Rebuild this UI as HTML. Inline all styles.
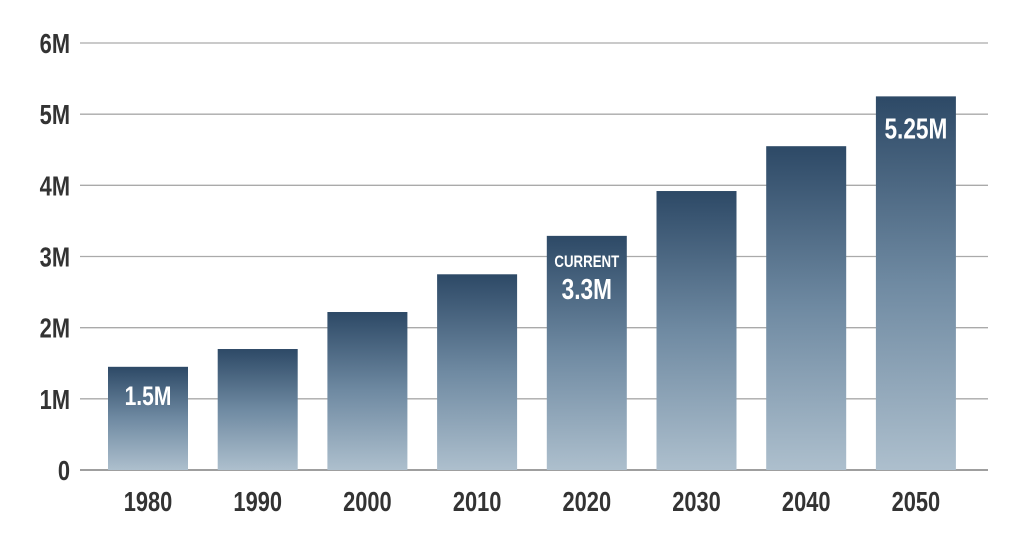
<!DOCTYPE html>
<html><head><meta charset="utf-8"><style>
html,body{margin:0;padding:0;background:#fff;}
svg text{font-family:"Liberation Sans",sans-serif;font-weight:bold;}
</style></head><body>
<svg id="chart" width="1024" height="544" viewBox="0 0 1024 544" xmlns="http://www.w3.org/2000/svg">
<defs><linearGradient id="bg" x1="0" y1="0" x2="0" y2="1">
<stop offset="0" stop-color="#2d4966"/><stop offset="0.5" stop-color="#6f8aa2"/><stop offset="1" stop-color="#adbfcd"/></linearGradient></defs>
<g id="grid"></g><g id="bars"></g><g id="labels"></g>
</svg>
<script>
const categories=["1980","1990","2000","2010","2020","2030","2040","2050"];
const values=[1.45,1.70,2.22,2.75,3.29,3.92,4.55,5.25];
const yTicks=[0,1,2,3,4,5,6];
const yTickLabels=["0","1M","2M","3M","4M","5M","6M"];
const NS="http://www.w3.org/2000/svg";
const y0=470,y1=43,yMax=6;
const y=v=>y0-(v/yMax)*(y0-y1);
const step=109.7,x0=148;
const xc=i=>x0+i*step;
const bw=80;
function mk(t,a,p){const e=document.createElementNS(NS,t);for(const k in a)e.setAttribute(k,a[k]);p.appendChild(e);return e;}
const grid=document.getElementById('grid'),bars=document.getElementById('bars'),labels=document.getElementById('labels');
function txt(x,yy,s,size,fill,anchor,parent){
  const g=mk('g',{transform:`translate(${x},${yy}) scale(0.78,1)`},parent);
  const t=mk('text',{x:0,y:0,'font-size':size,fill:fill,'text-anchor':anchor},g);
  t.textContent=s;return t;}
yTicks.forEach((v,i)=>{
  const l=mk('line',{x1:80,x2:988,y1:y(v),y2:y(v),stroke:v===0?'#666':'#aaa','stroke-width':1.3},grid);
  
  
  const t=txt(70,y(v)+10,yTickLabels[i],28,'#333','end',labels);
  
  
});
categories.forEach((c,i)=>{
  const r=mk('rect',{x:xc(i)-bw/2,y:y(values[i]),width:bw,height:y0-y(values[i]),fill:'url(#bg)'},bars);
  
  
  const t=txt(xc(i),511,c,28,'#333','middle',labels);
  
  
});
function barLabel(i,s,dy,size,name){
  const t=txt(xc(i),y(values[i])+dy,s,size,'#fff','middle',labels);
  
  }
barLabel(0,"1.5M",38,27,'value-label-1980');
barLabel(4,"CURRENT",31,17,'current-label');
barLabel(4,"3.3M",63,29,'value-label-2020');
barLabel(7,"5.25M",42,29,'value-label-2050');
</script>
</body></html>
